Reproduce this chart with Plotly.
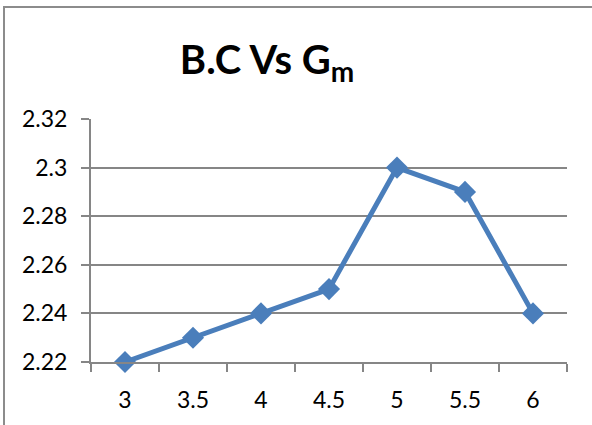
import plotly.graph_objects as go

# Grain size values and measured B.C readings
categories = ["3", "3.5", "4", "4.5", "5", "5.5", "6"]
bc_values = [2.22, 2.23, 2.24, 2.25, 2.30, 2.29, 2.24]
y_ticks = [2.22, 2.24, 2.26, 2.28, 2.30, 2.32]
y_tick_labels = ["2.22", "2.24", "2.26", "2.28", "2.3", "2.32"]

LINE_BLUE = "#4A7EBB"
GRID_GRAY = "#868686"
FONT = "Lato, 'Open Sans', sans-serif"

fig = go.Figure(
    go.Scatter(
        x=categories,
        y=bc_values,
        mode="lines+markers",
        line=dict(color=LINE_BLUE, width=5),
        marker=dict(symbol="diamond", size=17, color=LINE_BLUE),
        cliponaxis=False,
        showlegend=False,
    )
)

fig.update_layout(
    width=592,
    height=425,
    margin=dict(l=91, r=25, t=119, b=63),
    paper_bgcolor="white",
    plot_bgcolor="white",
    font=dict(family=FONT, size=23, color="black"),
    title=dict(
        text="<b>B.C Vs G<sub>m</sub></b>",
        font=dict(family=FONT, size=40, color="black"),
        x=267 / 592,
        xref="container",
        xanchor="center",
        y=1 - 60 / 425,
        yref="container",
        yanchor="middle",
    ),
    xaxis=dict(
        type="category",
        range=[-0.5, 6.5],
        showgrid=False,
        showline=True,
        linecolor=GRID_GRAY,
        linewidth=2,
        ticks="outside",
        tickson="boundaries",
        ticklen=8,
        tickwidth=2,
        tickcolor=GRID_GRAY,
        ticklabelstandoff=16,
    ),
    yaxis=dict(
        range=[2.22, 2.32],
        tickvals=y_ticks,
        ticktext=y_tick_labels,
        showgrid=True,
        gridcolor=GRID_GRAY,
        gridwidth=2,
        showline=True,
        linecolor=GRID_GRAY,
        linewidth=2,
        ticks="outside",
        ticklen=8,
        tickwidth=2,
        tickcolor=GRID_GRAY,
        zeroline=False,
        ticklabelstandoff=9,
    ),
    shapes=[
        dict(
            type="rect",
            xref="paper",
            yref="paper",
            x0=-87 / 476,
            x1=1 + 40 / 476,
            y0=-80 / 243,
            y1=1 + 112 / 243,
            line=dict(color="#8C8C8C", width=2),
            fillcolor="rgba(0,0,0,0)",
            layer="below",
        )
    ],
)

fig.write_html("out.html")
